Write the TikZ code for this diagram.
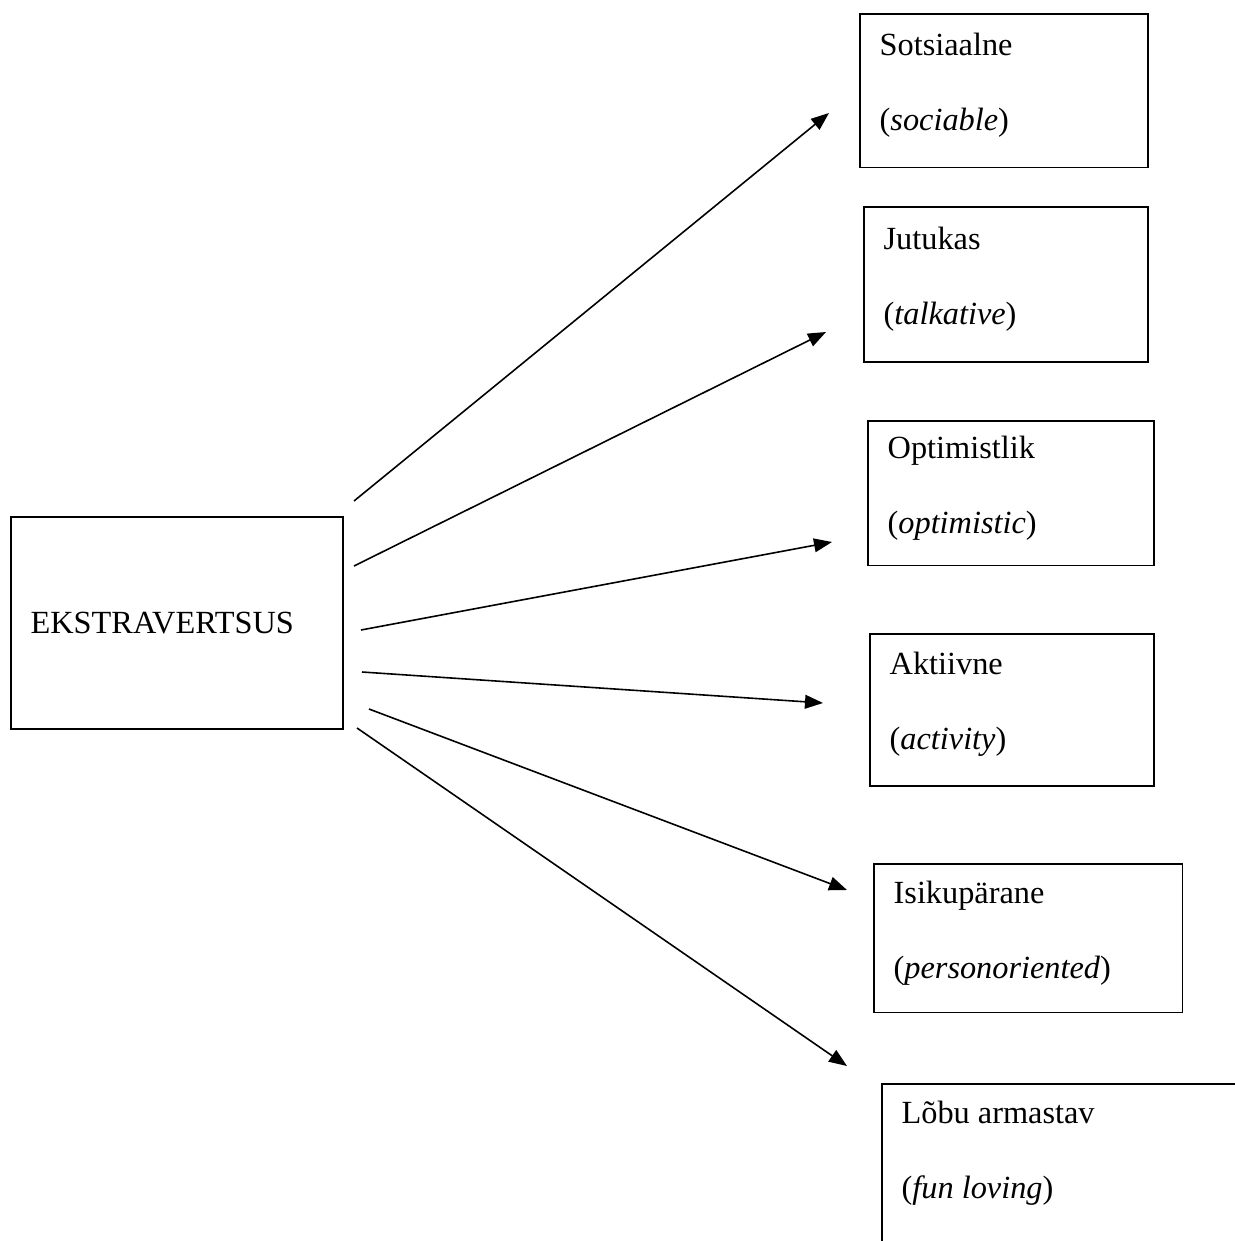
\documentclass[tikz,border=0pt]{standalone}
\usepackage{fontspec}
\setmainfont{Liberation Serif}
\usepackage{tikz}
\usetikzlibrary{positioning,arrows.meta}

\begin{document}
\begin{tikzpicture}[
    x=0.3775pt, y=-0.3775pt,
    box/.style={rectangle, draw=black, line width=0.6pt, anchor=north west,
                inner xsep=7.5pt, align=left,
                font=\fontsize{12.2pt}{28.3pt}\selectfont,
                execute at begin node={\spaceskip=0pt\relax\xspaceskip=0pt\relax}},
    trait/.style={box, execute at end node={\endgraf\kern4pt\relax}},
    arrow/.style={-{Triangle[length=6.8pt, width=5.2pt]}, line width=0.6pt}
]
    \useasboundingbox (0,0) rectangle (1235,1241);
    \clip (0,0) rectangle (1235,1241);

    \node[box, text width=110.3pt, minimum height=80pt] (extra) at (10,516) {EKSTRAVERTSUS};

    \node[trait, text width=93.7pt, minimum height=58.1pt] (sots) at (859,13) {Sotsiaalne\\(\textit{sociable})};
    \node[trait, text width=92.2pt, minimum height=58.5pt] (jutu) at (863,206) {Jutukas\\(\textit{talkative})};
    \node[trait, text width=93pt, minimum height=54.7pt] (opti) at (867,420) {Optimistlik\\(\textit{optimistic})};
    \node[trait, text width=92.2pt, minimum height=57.4pt] (akti) at (869,633) {Aktiivne\\(\textit{activity})};
    \node[trait, text width=101.6pt, minimum height=56.2pt] (isik) at (873,863) {Isikupärane\\(\textit{personoriented})};
    % runs off the page on the right and at the bottom
    \node[trait, text width=136pt, minimum height=64pt, execute at end node={\kern7.6pt\relax}] (lobu) at (881,1083) {Lõbu armastav\\(\textit{fun loving})};

    % free ends of the arrows
    \coordinate (s1) at (354,501);
    \coordinate (s2) at (354,566);
    \coordinate (s3) at (361,630);
    \coordinate (s4) at (362,672);
    \coordinate (s5) at (369,709);
    \coordinate (s6) at (357,728);
    \coordinate (t1) at (829,113);
    \coordinate (t2) at (826,332);
    \coordinate (t3) at (832,542);
    \coordinate (t4) at (823,703);
    \coordinate (t5) at (847,890);
    \coordinate (t6) at (847,1066);

    \draw[arrow] (s1) -- (t1);
    \draw[arrow] (s2) -- (t2);
    \draw[arrow] (s3) -- (t3);
    \draw[arrow] (s4) -- (t4);
    \draw[arrow] (s5) -- (t5);
    \draw[arrow] (s6) -- (t6);
\end{tikzpicture}
\end{document}
